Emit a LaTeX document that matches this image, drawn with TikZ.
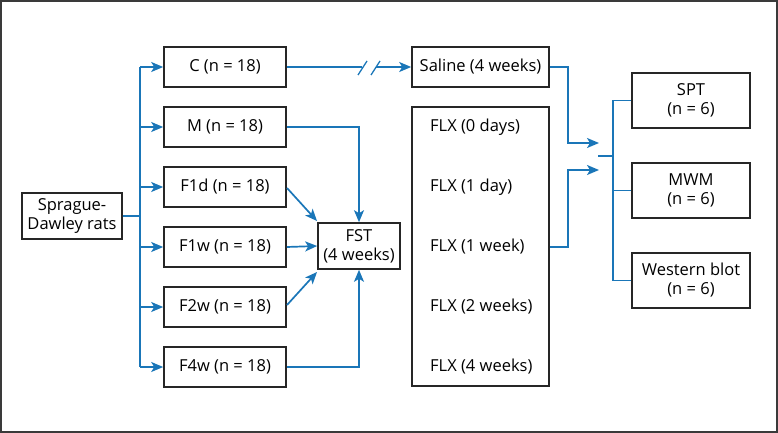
\documentclass[tikz,border=0pt]{standalone}
\usepackage{fontspec}
\setmainfont{Open Sans}
\usetikzlibrary{arrows.meta}
\definecolor{lnblue}{HTML}{1A76B8}
\definecolor{frame}{HTML}{3A3A3A}
\begin{document}
\begin{tikzpicture}[x=1pt,y=-1pt,
  box/.style={draw=black!85,line width=1.6pt,inner sep=0pt,align=center,
    font=\fontsize{16.5}{19}\selectfont},
  grp/.style={box,minimum width=122pt,minimum height=40pt},
  res/.style={box,minimum width=118pt,minimum height=55pt},
  lbl/.style={inner sep=0pt,anchor=west,font=\fontsize{16.5}{19}\selectfont},
  conn/.style={draw=lnblue,line width=1.7pt},
  arr/.style={conn,-{Stealth[length=12pt,width=10pt,inset=3pt]}}]
\useasboundingbox (0,0) rectangle (778,433);
\draw[frame,line width=2pt] (1,1) rectangle (777,432);
% nodes
\node[box,minimum width=100pt,minimum height=46pt] (sd) at (72,216) {Sprague-\\Dawley rats};
\node[grp] (c)   at (225,67)  {C (n = 18)};
\node[grp] (m)   at (225,127) {M (n = 18)};
\node[grp] (f1d) at (225,187) {F1d (n = 18)};
\node[grp] (f1w) at (225,247) {F1w (n = 18)};
\node[grp] (f2w) at (225,307) {F2w (n = 18)};
\node[grp] (f4w) at (225,367) {F4w (n = 18)};
\node[box,minimum width=82pt,minimum height=46pt] (fst) at (359,246) {FST\\(4 weeks)};
\node[box,minimum width=137pt,minimum height=40pt] (sal) at (480.5,67) {Saline (4 weeks)};
\node[box,minimum width=137pt,minimum height=279pt] (flx) at (480.5,246.5) {};
\node[lbl] (x0) at (430,127) {FLX (0 days)};
\node[lbl] (x1) at (430,187) {FLX (1 day)};
\node[lbl] (x2) at (430,247) {FLX (1 week)};
\node[lbl] (x3) at (430,307) {FLX (2 weeks)};
\node[lbl] (x4) at (430,367) {FLX (4 weeks)};
\node[res] (spt) at (691,100.5) {SPT\\(n = 6)};
\node[res] (mwm) at (691,190.5) {MWM\\(n = 6)};
\node[res] (wb)  at (691,280.5) {Western blot\\(n = 6)};
% coordinates
\coordinate (sp) at (140,216);
\coordinate (vt) at (140,67);
\coordinate (vb) at (140,367);
\coordinate (b1) at (362,67);
\coordinate (b2) at (376,67);
\coordinate (sa) at (599,143);
\coordinate (fa) at (599,170);
\coordinate (jl) at (598,156);
\coordinate (jr) at (613,156);
\coordinate (jt) at (613,100.5);
\coordinate (jb) at (613,280.5);
% left tree
\draw[conn] (sd.east) -- (sp);
\draw[conn] (vt) -- (vb);
\foreach \n in {c,m,f1d,f1w,f2w,f4w}{
  \draw[arr] (vt |- \n.west) -- (\n.west);
}
% C -> saline with break
\draw[conn] (c.east) -- (b1);
\draw[arr] (b2) -- (sal.west);
\draw[draw=lnblue,line width=1.3pt] (358,75) -- (367,61);
\draw[draw=lnblue,line width=1.3pt] (371,75) -- (380,61);
% to FST
\draw[arr] (m.east) -| (fst.north);
\draw[arr] (f4w.east) -| (fst.south);
\draw[arr] (f1w.east) -- (fst.west);
\draw[arr] (287,188) -- (317,221);
\draw[arr] (287,305) -- (317,272);
% right
\draw[arr] (sal.east) -- (568,67) |- (sa);
\draw[arr] (flx.east |- x2) -- (568,247) |- (fa);
\draw[conn] (jl) -- (jr);
\draw[conn] (jt) -- (jb);
\draw[conn] (jt) -- (spt.west);
\draw[conn] (jr |- mwm.west) -- (mwm.west);
\draw[conn] (jb) -- (wb.west);
\end{tikzpicture}
\end{document}
